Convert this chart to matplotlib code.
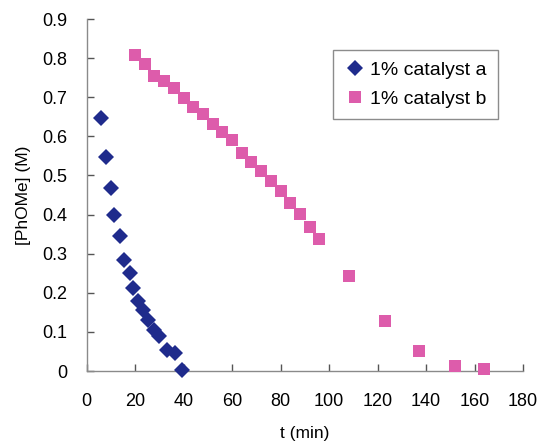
import matplotlib
matplotlib.use('Agg')
import matplotlib.pyplot as plt

plt.rcParams['font.family'] = ['Liberation Sans', 'DejaVu Sans']

# catalyst a
t_a = [6.0, 7.9, 10.0, 11.3, 13.8, 15.6, 17.9, 19.3, 21.3, 23.4, 25.4, 27.9, 30.0, 33.0, 36.4, 39.4]
c_a = [0.648, 0.546, 0.467, 0.400, 0.344, 0.284, 0.250, 0.213, 0.178, 0.155, 0.130, 0.105, 0.090, 0.053, 0.047, 0.002]

# catalyst b
t_b = [20, 24, 28, 32, 36, 40, 44, 48, 52, 56, 60, 64, 68, 72, 76, 80, 84, 88, 92, 96,
       108, 123, 137, 152, 164]
c_b = [0.808, 0.785, 0.755, 0.742, 0.723, 0.697, 0.675, 0.656, 0.632, 0.612, 0.590, 0.558,
       0.535, 0.511, 0.487, 0.460, 0.430, 0.402, 0.368, 0.338, 0.244, 0.128, 0.052, 0.013, 0.004]

xticks = [0, 20, 40, 60, 80, 100, 120, 140, 160, 180]
yticks = [0, 0.1, 0.2, 0.3, 0.4, 0.5, 0.6, 0.7, 0.8, 0.9]
ylabels = ['0', '0.1', '0.2', '0.3', '0.4', '0.5', '0.6', '0.7', '0.8', '0.9']

fig = plt.figure(figsize=(5.41, 4.43), dpi=100)
ax = fig.add_axes([0.160, 0.1625, 0.807, 0.7945])

ax.plot(t_a, c_a, linestyle='none', marker='D', ms=8, color='#1f2b8c',
        markeredgewidth=0, label='1% catalyst a', clip_on=False, zorder=3)
ax.plot(t_b, c_b, linestyle='none', marker='s', ms=8.5, color='#dd5cab',
        markeredgewidth=0, label='1% catalyst b', clip_on=False, zorder=3)

ax.set_xlim(0, 180)
ax.set_ylim(0, 0.9)
ax.set_xticks(xticks)
ax.set_yticks(yticks)
ax.set_yticklabels(ylabels)

for s in ['top', 'right']:
    ax.spines[s].set_visible(False)
for s in ['left', 'bottom']:
    ax.spines[s].set_color('#8a8a8a')
    ax.spines[s].set_linewidth(1)

ax.tick_params(direction='in', length=5, width=1, color='#555555', labelsize=13)
ax.tick_params(axis='x', pad=16)
ax.tick_params(axis='y', pad=14)

ax.set_xlabel('t (min)', fontsize=12.5, labelpad=11)
ax.set_ylabel('[PhOMe] (M)', fontsize=12.5, labelpad=8)

leg = ax.legend(loc='upper left', bbox_to_anchor=(0.565, 0.912), fontsize=14,
                frameon=True, fancybox=False, handletextpad=0.3, handlelength=1.0,
                borderpad=0.6, labelspacing=0.55, numpoints=1, borderaxespad=0)
leg.get_frame().set_edgecolor('#707070')
leg.get_frame().set_linewidth(1)

fig.savefig('out.png', dpi=100)
